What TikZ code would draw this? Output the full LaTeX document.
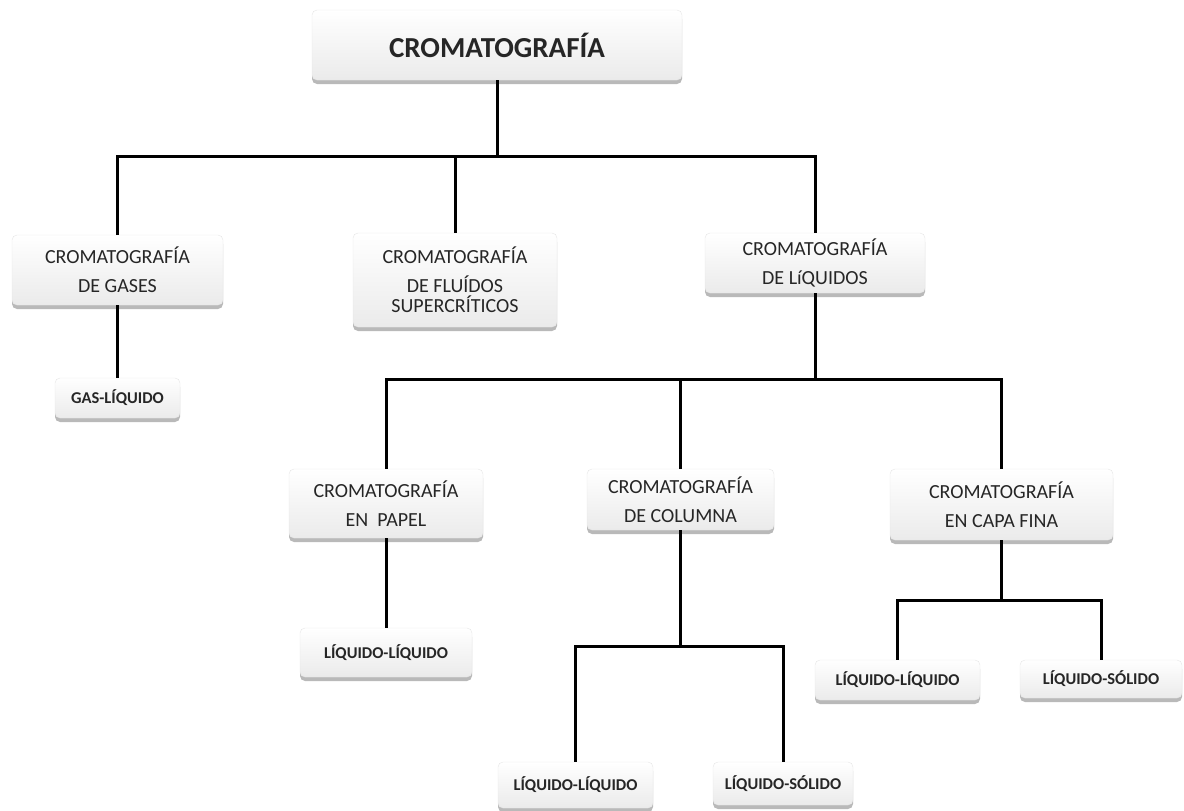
\documentclass[tikz,border=0pt]{standalone}
\usepackage{fontspec}
\setmainfont{Carlito}
\usetikzlibrary{shadows}

\tikzset{
  caja/.style={rounded corners=5pt, top color=white, bottom color=gray!16,
    draw=gray!20, line width=0.4pt, align=center, text=black!85, inner sep=0pt,
    drop shadow={opacity=0.55, shadow xshift=0pt, shadow yshift=-4pt}},
  rama/.style={caja, font=\fontsize{20}{29}\selectfont},
  hoja/.style={caja, font=\fontsize{16.5}{18}\selectfont\bfseries},
  enlace/.style={line width=3pt, black, line join=miter}
}

\begin{document}
\begin{tikzpicture}[x=1pt, y=-1pt]
    \useasboundingbox (0,0) rectangle (1184,811);
    % niveles de las barras horizontales
    \coordinate (b1) at (0,156);
    \coordinate (b2) at (0,379);
    \coordinate (b3) at (0,646);
    \coordinate (b4) at (0,600);

    \node[caja, font=\fontsize{29}{31}\selectfont\bfseries, minimum width=370pt, minimum height=70pt] (root) at (497,45) {CROMATOGRAFÍA};

    \node[rama, minimum width=211pt, minimum height=70pt] (gases) at (117.5,270) {CROMATOGRAFÍA\\DE GASES};
    \node[rama, minimum width=204pt, minimum height=94pt] (fluidos) at (455,280) {CROMATOGRAFÍA\\DE FLUÍDOS\\[-9pt]SUPERCRÍTICOS};
    \node[rama, minimum width=220pt, minimum height=60pt] (liquidos) at (815,263) {CROMATOGRAFÍA\\DE LíQUIDOS};

    \node[hoja, minimum width=125pt, minimum height=40pt] (gasliq) at (117.5,398) {GAS-LÍQUIDO};

    \node[rama, minimum width=194pt, minimum height=69pt] (papel) at (386,503.5) {CROMATOGRAFÍA\\EN\ \ PAPEL};
    \node[rama, minimum width=187pt, minimum height=61pt] (columna) at (680.5,499.5) {CROMATOGRAFÍA\\DE COLUMNA};
    \node[rama, minimum width=223pt, minimum height=71pt] (capa) at (1001.5,504.5) {CROMATOGRAFÍA\\EN CAPA FINA};

    \node[hoja, minimum width=172pt, minimum height=49pt] (papelLL) at (386,652.5) {LÍQUIDO-LÍQUIDO};
    \node[hoja, minimum width=155pt, minimum height=46pt] (colLL) at (575.5,785) {LÍQUIDO-LÍQUIDO};
    \node[hoja, minimum width=140pt, minimum height=43pt] (colLS) at (783,783.5) {LÍQUIDO-SÓLIDO};
    \node[hoja, minimum width=165pt, minimum height=40pt] (capaLL) at (897.5,680) {LÍQUIDO-LÍQUIDO};
    \node[hoja, minimum width=162pt, minimum height=38pt] (capaLS) at (1101,679) {LÍQUIDO-SÓLIDO};

    % conexiones
    \foreach \hijo in {gases,fluidos,liquidos}
        \draw[enlace] (root.south) -- (root.south |- b1) -| (\hijo.north);
    \draw[enlace] (gases.south) -- (gasliq.north);
    \foreach \hijo in {papel,columna,capa}
        \draw[enlace] (liquidos.south) -- (liquidos.south |- b2) -| (\hijo.north);
    \draw[enlace] (papel.south) -- (papelLL.north);
    \foreach \hijo in {colLL,colLS}
        \draw[enlace] (columna.south) -- (columna.south |- b3) -| (\hijo.north);
    \foreach \hijo in {capaLL,capaLS}
        \draw[enlace] (capa.south) -- (capa.south |- b4) -| (\hijo.north);
\end{tikzpicture}
\end{document}
